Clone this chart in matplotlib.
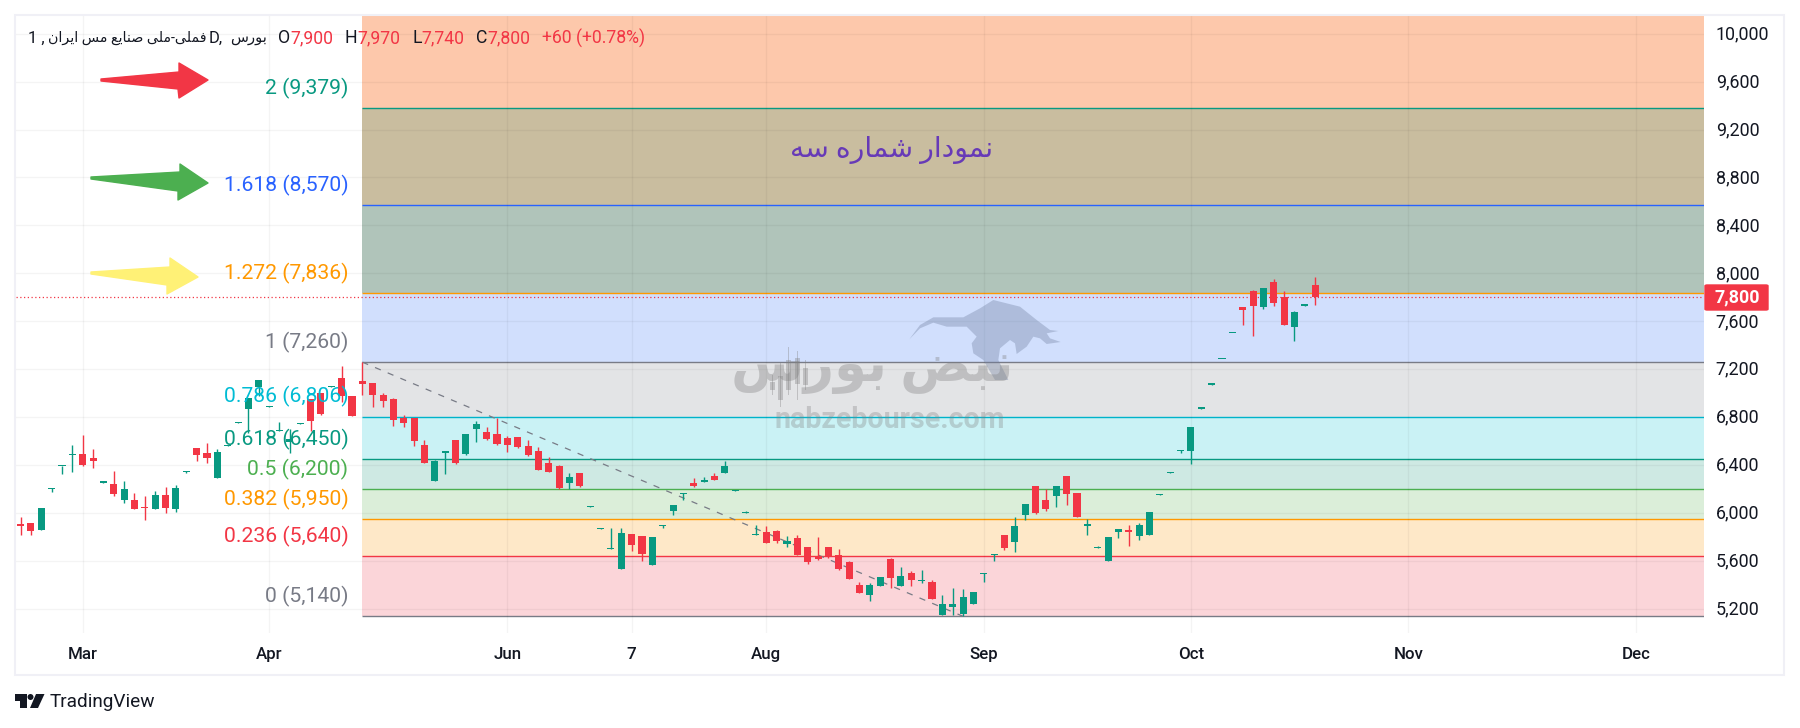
import matplotlib
matplotlib.use("Agg")
import matplotlib.pyplot as plt
from matplotlib.patches import Polygon, Rectangle, FancyBboxPatch, Circle
from matplotlib.transforms import Affine2D

W, H = 1800, 728

# daily candles, index 0 is the bar the fib starts on
bar_start = -33
opens = [5912, 5920, 5862, 6200, 6390, 6487, 6496, 6462, 6256, 6245, 6112, 6112, 6054, 6037, 6154, 6037, 6346,
         6546, 6504, 6296, 6562, 6754, 6871, 7054, 6888, 6687, 6596, 6746, 6954, 7004, 7054, 7129, 6979,
         7104, 7082, 6982, 6949, 6790, 6790, 6572, 6272, 6506, 6614, 6497, 6706, 6681, 6664, 6631, 6639,
         6564, 6522, 6422, 6397, 6255, 6338, 6054, 5870, 5703, 5536, 5829, 5812, 5569, 5895, 6021, 6163,
         6255, 6263, 6313, 6338, 6188, 6004, 5820, 5845, 5854, 5745, 5794, 5719, 5644, 5719, 5652, 5594,
         5402, 5318, 5393, 5619, 5393, 5502, 5435, 5427, 5151, 5218, 5159, 5243, 5494, 5652, 5819, 5761,
         5987, 6229, 6112, 6145, 6313, 6170, 5895, 5711, 5602, 5845, 5861, 5811, 5819, 6154, 6338, 6522,
         6522, 6873, 7073, 7282, 7499, 7721, 7854, 7721, 7930, 7804, 7554, 7732, 7900]
highs = [5970, 5920, 6045, 6212, 6396, 6571, 6654, 6537, 6262, 6354, 6270, 6170, 6145, 6187, 6220, 6237, 6354,
         6546, 6587, 6537, 6571, 6762, 6963, 7113, 6896, 6762, 6704, 6754, 6954, 7004, 7063, 7230, 6979,
         7260, 7090, 6999, 6965, 6823, 6790, 6614, 6447, 6522, 6614, 6664, 6765, 6723, 6790, 6648, 6639,
         6614, 6556, 6472, 6405, 6338, 6338, 6063, 5879, 5879, 5879, 5829, 5812, 5803, 5904, 6071, 6171,
         6297, 6305, 6338, 6439, 6196, 6021, 5904, 5895, 5862, 5812, 5819, 5719, 5803, 5719, 5703, 5602,
         5427, 5418, 5468, 5627, 5552, 5519, 5527, 5443, 5318, 5377, 5368, 5343, 5502, 5660, 5819, 5970,
         6079, 6229, 6204, 6229, 6313, 6170, 5953, 5727, 5803, 5870, 5903, 5920, 6012, 6162, 6346, 6530,
         6722, 6881, 7082, 7287, 7504, 7721, 7863, 7880, 7955, 7854, 7688, 7738, 7970]
lows = [5820, 5820, 5862, 6179, 6329, 6345, 6396, 6379, 6256, 6145, 6087, 6037, 5945, 6037, 6004, 6012, 6337,
        6437, 6421, 6296, 6562, 6754, 6668, 6974, 6888, 6687, 6504, 6746, 6687, 6821, 7054, 6929, 6812,
        6988, 6882, 6882, 6731, 6723, 6564, 6422, 6272, 6330, 6414, 6489, 6597, 6614, 6572, 6514, 6547,
        6480, 6363, 6347, 6205, 6205, 6221, 6054, 5870, 5703, 5536, 5686, 5603, 5569, 5879, 5987, 6113,
        6221, 6263, 6280, 6338, 6188, 6004, 5820, 5753, 5753, 5720, 5652, 5577, 5611, 5627, 5527, 5452,
        5335, 5268, 5393, 5380, 5393, 5393, 5418, 5285, 5151, 5151, 5140, 5243, 5427, 5602, 5694, 5677,
        5945, 5995, 6020, 6054, 6070, 5970, 5819, 5711, 5602, 5794, 5728, 5778, 5819, 6154, 6338, 6505,
        6413, 6873, 7073, 7282, 7499, 7571, 7479, 7704, 7729, 7571, 7437, 7732, 7740]
closes = [5895, 5853, 6045, 6212, 6396, 6496, 6404, 6437, 6262, 6162, 6204, 6037, 6045, 6154, 6045, 6212, 6354,
          6487, 6462, 6512, 6571, 6762, 6963, 7113, 6896, 6696, 6621, 6754, 6771, 6829, 7063, 6979, 6812,
          7079, 6982, 6932, 6781, 6756, 6606, 6422, 6439, 6522, 6422, 6664, 6740, 6623, 6581, 6572, 6556,
          6489, 6363, 6347, 6213, 6305, 6230, 6063, 5879, 5712, 5837, 5737, 5661, 5803, 5904, 6071, 6171,
          6230, 6280, 6280, 6397, 6196, 6012, 5829, 5753, 5770, 5770, 5652, 5594, 5619, 5636, 5535, 5452,
          5335, 5402, 5468, 5460, 5477, 5443, 5443, 5285, 5243, 5243, 5301, 5343, 5502, 5660, 5711, 5895,
          6079, 6003, 6037, 6229, 6162, 5970, 5912, 5719, 5803, 5870, 5845, 5903, 6012, 6162, 6346, 6530,
          6722, 6881, 7082, 7287, 7504, 7696, 7729, 7880, 7754, 7571, 7679, 7738, 7800]

# fib levels, top to bottom
fib_ratios = ["2", "1.618", "1.272", "1", "0.786", "0.618", "0.5", "0.382", "0.236", "0"]
fib_prices = [9379, 8570, 7836, 7260, 6806, 6450, 6200, 5950, 5640, 5140]
fib_colors = ["#089981", "#2962ff", "#ff9800", "#787b86", "#00bcd4", "#089981", "#4caf50", "#ff9800", "#f23645", "#787b86"]
fib_fills = ["#fdc8ab", "#c9bd9f", "#b0c4ba", "#d1dffd", "#e3e4e6", "#caf2f5", "#cee9e3", "#dbeed9", "#fee8c8", "#fbd5d9"]

price_ticks = [5200, 5600, 6000, 6400, 6800, 7200, 7600, 8000, 8400, 8800, 9200, 9600, 10000]
time_ticks = [-27, -9, 14, 26, 39, 60, 80, 101, 123]
time_labels = ["Mar", "Apr", "Jun", "7", "Aug", "Sep", "Oct", "Nov", "Dec"]

last_price = 7800
trend_start = (0, 7260)
trend_end = (58, 5140)

UP = "#089981"
DOWN = "#f23645"
SANS = ["Roboto", "DejaVu Sans"]

# matplotlib does not shape arabic, so pick the joined glyphs by hand
FORMS = {
    "ا": ("\ufe8d", "\ufe8e", None, None), "ب": ("\ufe8f", "\ufe90", "\ufe91", "\ufe92"),
    "د": ("\ufea9", "\ufeaa", None, None), "ر": ("\ufead", "\ufeae", None, None),
    "س": ("\ufeb1", "\ufeb2", "\ufeb3", "\ufeb4"), "ش": ("\ufeb5", "\ufeb6", "\ufeb7", "\ufeb8"),
    "ص": ("\ufeb9", "\ufeba", "\ufebb", "\ufebc"), "ض": ("\ufebd", "\ufebe", "\ufebf", "\ufec0"),
    "ع": ("\ufec9", "\ufeca", "\ufecb", "\ufecc"), "ف": ("\ufed1", "\ufed2", "\ufed3", "\ufed4"),
    "ل": ("\ufedd", "\ufede", "\ufedf", "\ufee0"), "م": ("\ufee1", "\ufee2", "\ufee3", "\ufee4"),
    "ن": ("\ufee5", "\ufee6", "\ufee7", "\ufee8"), "ه": ("\ufee9", "\ufeea", "\ufeeb", "\ufeec"),
    "و": ("\ufeed", "\ufeee", None, None), "ی": ("\ufbfc", "\ufbfd", "\ufbfe", "\ufbff"),
}


def shape(text):
    out = []
    for i, ch in enumerate(text):
        if ch not in FORMS:
            out.append(ch)
            continue
        prev = text[i - 1] if i > 0 else ""
        nxt = text[i + 1] if i + 1 < len(text) else ""
        joined_prev = prev in FORMS and FORMS[prev][2] is not None
        joined_next = nxt in FORMS and FORMS[ch][2] is not None
        isol, final, init, medi = FORMS[ch]
        if joined_prev and joined_next:
            out.append(medi)
        elif joined_prev:
            out.append(final)
        elif joined_next:
            out.append(init)
        else:
            out.append(isol)
    return "".join(reversed(out))


def fx(x):
    return x / W


def fy(y):
    return 1 - y / H


def pts(points):
    return [(fx(x), fy(y)) for x, y in points]


fig = plt.figure(figsize=(W / 100, H / 100), dpi=100, facecolor="white")
ax = fig.add_axes([fx(16), fy(633), fx(1704 - 16), fy(15) - fy(633)])
ax.set_xlim(-33.44, 129.54)
ax.set_ylim(5001, 10155)
for s in ax.spines.values():
    s.set_visible(False)

# fib bands and lines
x_right = ax.get_xlim()[1]
band_tops = [ax.get_ylim()[1]] + fib_prices[:-1]
for top, bottom, fill in zip(band_tops, fib_prices, fib_fills):
    ax.fill_between([0, x_right], bottom, top, color=fill, lw=0, zorder=1)
ax.hlines(fib_prices, 0, x_right, colors=fib_colors, lw=1.0, zorder=2)

ax.set_axisbelow(False)
ax.grid(True, color="black", alpha=0.045, lw=1.0, zorder=2)
ax.set_xticks(time_ticks)
ax.set_xticklabels(time_labels, fontfamily=SANS, fontsize=12.2, fontweight="medium", color="#131722")
ax.set_yticks(price_ticks)
ax.set_yticklabels([f"{p:,}" for p in price_ticks], fontfamily=SANS, fontsize=12.9, color="#131722")
ax.yaxis.tick_right()
ax.tick_params(axis="both", length=0)
ax.tick_params(axis="y", pad=8.5)
ax.tick_params(axis="x", pad=10)

for ratio, price, color in zip(fib_ratios, fib_prices, fib_colors):
    ax.annotate(f"{ratio} ({price:,})", xy=(0, price), xytext=(-14, 20), textcoords="offset pixels",
                ha="right", va="center", fontfamily=SANS, fontsize=15.2, color=color, zorder=6)

# dashed trend line and last price line
ax.plot([trend_start[0], trend_end[0]], [trend_start[1], trend_end[1]], color="#787b86", lw=0.9,
        ls=(0, (5, 6)), zorder=3)
ax.axhline(last_price, color=DOWN, lw=0.9, ls=(0, (1, 2)), zorder=3)

# candles, flat ones still need one pixel of body
xs = list(range(bar_start, bar_start + len(opens)))
colors = [UP if c >= o else DOWN for o, c in zip(opens, closes)]
ax.vlines(xs, lows, highs, colors=colors, lw=1.0, zorder=4)
ax.bar(xs, [max(abs(c - o), 9) for o, c in zip(opens, closes)], bottom=[min(o, c) for o, c in zip(opens, closes)],
       width=0.68, color=colors, lw=0, zorder=5)

# outer frame
fig.add_artist(Rectangle((fx(15), fy(674.5)), fx(1784 - 15), fy(15) - fy(674.5), transform=fig.transFigure,
                         fill=False, edgecolor="#f0f0f6", lw=1.5))

# last price tag
fig.add_artist(FancyBboxPatch((fx(1705), fy(310)), fx(63), fy(285) - fy(310), transform=fig.transFigure,
                              boxstyle="round,pad=0,rounding_size=0.0012", facecolor=DOWN, edgecolor=DOWN, lw=1))
fig.text(fx(1737), fy(297.5), f"{last_price:,}", ha="center", va="center", color="white", fontfamily=SANS,
         fontsize=12.9, fontweight="bold")

# header line
BLACK = "#131722"
fig.text(fx(28), fy(38), "1 ,", family=SANS, fontsize=12, color=BLACK, va="center")
fig.text(fx(48), fy(38), shape("فملی-ملی صنایع مس ایران"), family=SANS, fontsize=10.3, color=BLACK, va="center")
fig.text(fx(209), fy(38), "D,", family=SANS, fontsize=12, color=BLACK, va="center")
fig.text(fx(230), fy(38), shape("بورس"), family=SANS, fontsize=10.6, color=BLACK, va="center")
header = [(278, "O", 290, "7,900"), (345, "H", 357, "7,970"), (412, "L", 421, "7,740"), (476, "C", 487, "7,800")]
for x0, letter, x1, value in header:
    fig.text(fx(x0), fy(38), letter, family=SANS, fontsize=12.7, color=BLACK, va="center")
    fig.text(fx(x1), fy(38), value, family=SANS, fontsize=12.7, color=DOWN, va="center")
fig.text(fx(542), fy(38), "+60 (+0.78%)", family=SANS, fontsize=12.7, color=DOWN, va="center")

# arrows next to the targets
red_arrow = [(101, 79), (179, 72), (179, 63), (208, 80), (179, 98), (178, 89), (101, 81)]
green_arrow = [(91, 177), (180, 172), (180, 164), (208, 183), (178, 200), (178, 191), (91, 179)]
yellow_arrow = [(91, 272), (170, 267), (170, 258), (198, 277), (167, 294), (167, 285), (91, 274)]
for shape_pts, color in [(red_arrow, "#f23645"), (green_arrow, "#4caf50"), (yellow_arrow, "#fff176")]:
    fig.add_artist(Polygon(pts(shape_pts), closed=True, transform=fig.transFigure, facecolor=color, edgecolor=color,
                           lw=1, joinstyle="round"))

# title on the chart
fig.text(fx(892), fy(150), shape("نمودار شماره سه"), family=SANS, fontsize=20.3, color="#673ab7",
         ha="center", va="center")

# watermark
bull = [(628, 178), (660, 135), (700, 112), (790, 112), (840, 85), (880, 60), (960, 80), (1010, 120), (1050, 150),
        (1075, 153), (1040, 160), (1050, 175), (1082, 186), (1040, 192), (1020, 175), (1000, 170), (980, 200),
        (950, 222), (945, 190), (930, 180), (900, 205), (895, 240), (925, 300), (885, 300), (850, 240), (820, 220),
        (815, 190), (830, 170), (800, 140), (740, 140), (700, 128), (660, 145)]
bull = [(700 + x / 3, 280 + y / 3) for x, y in bull]
fig.add_artist(Polygon(pts(bull), closed=True, transform=fig.transFigure, facecolor="#7080a0", edgecolor="none", alpha=0.36))
fig.text(fx(872), fy(368), shape("نبض بورس"), family=SANS, fontsize=38, fontweight="bold", color="#808080", alpha=0.36,
         ha="center", va="center")
fig.text(fx(890), fy(420), "nabzebourse.com", family=SANS, fontsize=20.6, fontweight="bold", color="#808080", alpha=0.32,
         ha="center", va="center")
# little candles inside the logo
for cx, wick_top, wick_bot, body_top, body_bot in [(772, 375, 395, 382, 390), (780, 363, 407, 376, 400),
                                                   (788, 347, 395, 360, 390), (797, 351, 400, 358, 384),
                                                   (805, 360, 390, 368, 385)]:
    fig.add_artist(Rectangle((fx(cx - 0.5), fy(wick_bot)), fx(1), fy(wick_top) - fy(wick_bot), transform=fig.transFigure,
                             facecolor="#808080", edgecolor="none", alpha=0.36))
    fig.add_artist(Rectangle((fx(cx - 2.5), fy(body_bot)), fx(5), fy(body_top) - fy(body_bot), transform=fig.transFigure,
                             facecolor="#808080", edgecolor="none", alpha=0.36))

# price labels sit a little above their grid lines
for label in ax.get_yticklabels():
    label.set_transform(label.get_transform() + Affine2D().translate(0, 1.5))

# tradingview mark
fig.add_artist(Polygon(pts([(15, 694), (27, 694), (27, 708), (20, 708), (20, 701), (15, 701)]), closed=True,
                       transform=fig.transFigure, facecolor=BLACK, edgecolor="none"))
fig.add_artist(Polygon(pts([(36, 694), (44.5, 694), (38, 708), (30, 708)]), closed=True,
                       transform=fig.transFigure, facecolor=BLACK, edgecolor="none"))
fig.add_artist(Circle((30.5, H - 697), 3, transform=None, facecolor=BLACK, edgecolor="none"))
fig.text(fx(50), fy(702), "TradingView", family=SANS, fontsize=13.7, color=BLACK, va="center")

fig.savefig("out.png", dpi=100)
